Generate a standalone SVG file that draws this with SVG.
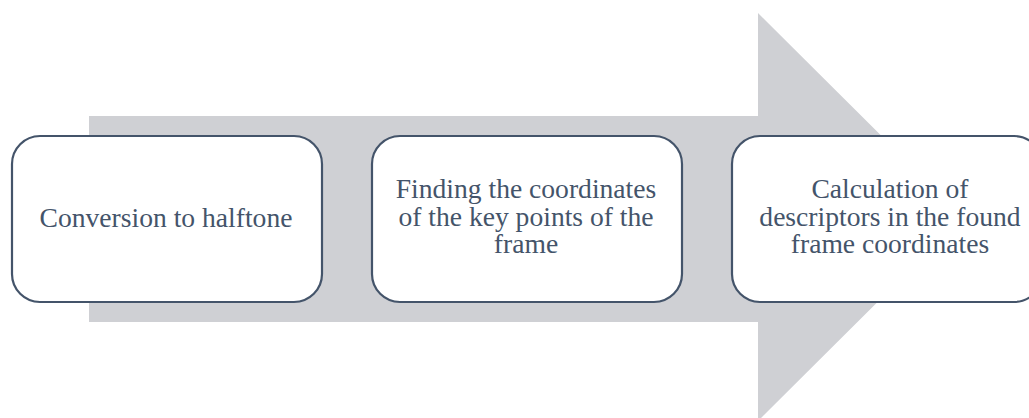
<svg xmlns="http://www.w3.org/2000/svg" width="1029" height="418" viewBox="0 0 1029 418">
  <style>
    .box { fill: #ffffff; stroke: #44546a; stroke-width: 2.2; }
    .label { font-family: 'Liberation Serif', 'DejaVu Serif', serif; font-size: 27.6px; fill: #44546a; text-anchor: middle; }
  </style>
  <rect width="1029" height="418" fill="#ffffff"/>
  <!-- Background process arrow -->
  <g id="connectors">
    <path d="M89,116 H758 V13 L963,217 L758,421 V322 H89 Z" fill="#cfd0d4"/>
  </g>
  <g id="step1">
    <rect class="box" x="12" y="136" width="310" height="166" rx="28" ry="28"/>
    <text class="label" x="166" y="227">Conversion to halftone</text>
  </g>
  <g id="step2">
    <rect class="box" x="372" y="136" width="310" height="166" rx="28" ry="28"/>
    <text class="label" x="526" y="198">Finding the coordinates</text>
    <text class="label" x="526" y="225.5">of the key points of the</text>
    <text class="label" x="526" y="253">frame</text>
  </g>
  <g id="step3">
    <rect class="box" x="732" y="136" width="310" height="166" rx="28" ry="28"/>
    <text class="label" x="890" y="198">Calculation of</text>
    <text class="label" x="890" y="225.5">descriptors in the found</text>
    <text class="label" x="890" y="253">frame coordinates</text>
  </g>
</svg>
